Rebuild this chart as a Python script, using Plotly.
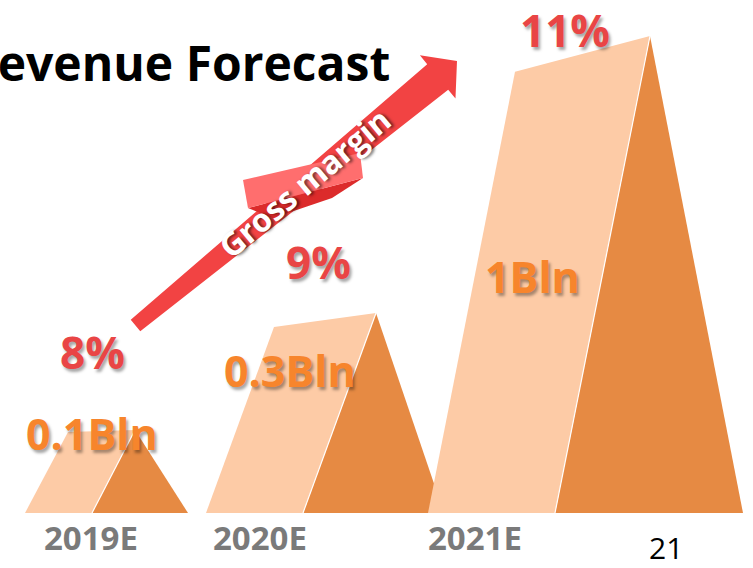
import math
import plotly.graph_objects as go

# ---- data ----
years = ["2019E", "2020E", "2021E"]
revenue_bln = [0.1, 0.3, 1]
gross_margin_pct = [8, 9, 11]
tower_height = [83, 200, 477]          # peak height of each tower (drawing units)

# ---- tower geometry (drawing units, baseline at y = 0) ----
base_left = [25, 206, 428]
light_width = [67, 97, 127]
dark_width = [96, 141, 188]
ridge_lean = [43, 73, 95]
top_width = [67, 102, 135]
shoulder = [0.975, 0.93, 0.925]

# ---- label anchors ----
year_label_xy = [(91, -24), (260, -24), (475, -24)]
revenue_label_xy = [(92, 80), (290, 143), (532, 237)]
margin_label_xy = [(92, 161), (318, 251), (565, 483)]

LIGHT = "#FDCBA6"
DARK = "#E68A43"
ORANGE = "#F7852C"
RED = "#E94545"
ARROW = "#F24343"
GREY = "#7A7A7A"
FONT = "Open Sans"
SHADOW = "2px 3px 3px rgba(0,0,0,0.35)"

fig = go.Figure()

for i in range(len(years)):
    x0 = base_left[i]
    xr = x0 + light_width[i]
    xa = xr + ridge_lean[i]
    xs = xa - top_width[i]
    xe = xr + dark_width[i]
    h = tower_height[i]
    hs = h * shoulder[i]
    fig.add_trace(go.Scatter(
        x=[x0, xs, xa, xr, x0], y=[0, hs, h, 0, 0],
        fill="toself", fillcolor=LIGHT, mode="lines",
        line=dict(width=0, color=LIGHT), hoverinfo="skip"))
    fig.add_trace(go.Scatter(
        x=[xr, xa, xe, xr], y=[0, h, 0, 0],
        fill="toself", fillcolor=DARK, mode="lines",
        line=dict(width=0, color=DARK), hoverinfo="skip"))
    fig.add_trace(go.Scatter(
        x=[xr, xa], y=[0, h], mode="lines",
        line=dict(width=1.2, color="white"), hoverinfo="skip"))

# ---- gross margin arrow (tapered shaft + head) ----
tail = (135.5, 187.5)
tip = (457.0, 452.0)
tail_half, neck_half, head_half, head_len = 7.5, 16.5, 28.0, 25.0
dx, dy = tip[0] - tail[0], tip[1] - tail[1]
length = math.hypot(dx, dy)
ux, uy = dx / length, dy / length
nx, ny = -uy, ux
neck = (tip[0] - ux * head_len, tip[1] - uy * head_len)


def off(p, d):
    return (p[0] + nx * d, p[1] + ny * d)


arrow_pts = [off(tail, tail_half), off(neck, neck_half), off(neck, head_half),
             tip, off(neck, -head_half), off(neck, -neck_half), off(tail, -tail_half)]
arrow_pts.append(arrow_pts[0])
fig.add_trace(go.Scatter(
    x=[p[0] for p in arrow_pts], y=[p[1] for p in arrow_pts],
    fill="toself", fillcolor=ARROW, mode="lines",
    line=dict(width=0, color=ARROW), hoverinfo="skip"))

# ribbon wrapped around the arrow
ribbon = [(243, 333), (360, 360), (363, 335), (248, 305), (243, 333)]
fold = [(248, 305), (363, 335), (332, 315), (273, 295), (248, 305)]
fig.add_trace(go.Scatter(
    x=[p[0] for p in fold], y=[p[1] for p in fold],
    fill="toself", fillcolor="#DC2B2B", mode="lines",
    line=dict(width=0, color="#DC2B2B"), hoverinfo="skip"))
fig.add_trace(go.Scatter(
    x=[p[0] for p in ribbon], y=[p[1] for p in ribbon],
    fill="toself", fillcolor="#FF6E6E", mode="lines",
    line=dict(width=0, color="#FF6E6E"), hoverinfo="skip"))

annotations = []
for i, yr in enumerate(years):
    x, y = year_label_xy[i]
    annotations.append(dict(x=x, y=y, text=yr, showarrow=False,
                            font=dict(family=FONT, size=33, color=GREY, weight="bold")))
    x, y = revenue_label_xy[i]
    annotations.append(dict(x=x, y=y, text=f"{revenue_bln[i]:g}Bln", showarrow=False,
                            font=dict(family=FONT, size=43, color=ORANGE, weight="bold",
                                      shadow=SHADOW)))
    x, y = margin_label_xy[i]
    annotations.append(dict(x=x, y=y, text=f"{gross_margin_pct[i]}%", showarrow=False,
                            font=dict(family=FONT, size=44, color=RED, weight="bold",
                                      shadow=SHADOW)))

annotations.append(dict(x=304, y=331, text="Gross margin", showarrow=False,
                        textangle=-40,
                        font=dict(family=FONT, size=32, color="white", weight="bold",
                                  shadow="2px 2px 3px rgba(0,0,0,0.55)")))
annotations.append(dict(x=392, y=451, xanchor="right", text="Revenue Forecast",
                        showarrow=False,
                        font=dict(family=FONT, size=48, color="black", weight="bold")))
annotations.append(dict(x=666, y=-34, text="21", showarrow=False,
                        font=dict(family=FONT, size=30, color="black")))

fig.update_layout(
    width=753, height=568,
    margin=dict(l=0, r=0, t=0, b=0),
    paper_bgcolor="white", plot_bgcolor="white",
    showlegend=False,
    annotations=annotations,
    xaxis=dict(range=[0, 753], visible=False, fixedrange=True),
    yaxis=dict(range=[-55, 513], visible=False, fixedrange=True),
)

fig.write_html("out.html")
